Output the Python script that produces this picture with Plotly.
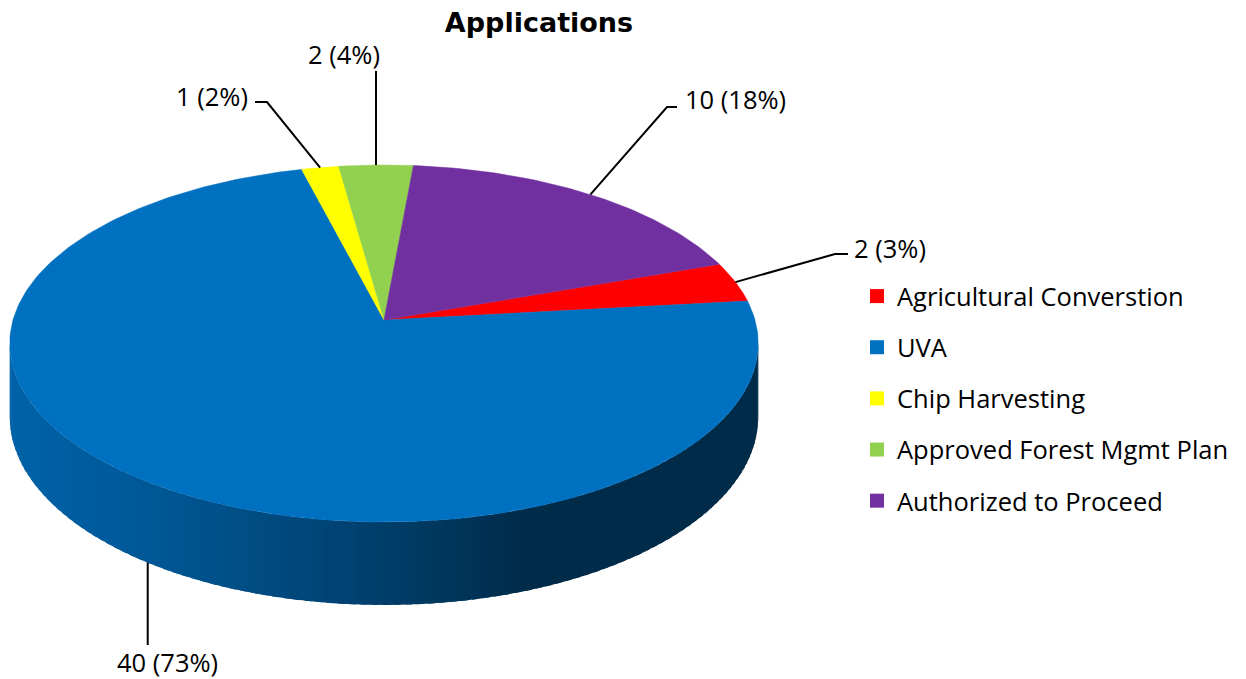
import numpy as np
import plotly.graph_objects as go

# ---------------- data ----------------
categories = ["Agricultural Converstion", "UVA", "Chip Harvesting",
              "Approved Forest Mgmt Plan", "Authorized to Proceed"]
counts = [2, 40, 1, 2, 10]
pct_labels = [3, 73, 2, 4, 18]
colors = ["#FF0000", "#0070C0", "#FFFF00", "#92D050", "#7030A0"]
title_text = "Applications"

# ---------------- geometry / style ----------------
W, H = 1246, 679
CX, CY = 384, 320          # pie centre (px)
RX, RY = 371, 175.4        # projected radii
PERSP = 0.1317             # perspective strength
DEPTH = 72                 # side thickness
START = 70.6               # first slice start, deg clockwise from 12 o'clock
LABEL_FONT = dict(family="Open Sans", size=25.5, color="#000000")

# side shading factor as a function of screen x
SHADE_X = [8, 150, 300, 450, 530, 760]
SHADE_F = [0.88, 0.78, 0.64, 0.48, 0.38, 0.38]

LABEL_LAYOUT = {
    "Agricultural Converstion": dict(pos=(852, 248), anchor="left", end=(848, 254), hseg=-13, z=0),
    "UVA": dict(pos=(167, 662), anchor="center", end=(None, 645), hseg=0, z=1),
    "Chip Harvesting": dict(pos=(250, 96), anchor="right", end=(255, 102), hseg=12, z=0),
    "Approved Forest Mgmt Plan": dict(pos=(344, 54), anchor="center", end=(None, 71), hseg=0, z=0),
    "Authorized to Proceed": dict(pos=(683, 99), anchor="left", end=(677, 107), hseg=-10, z=0),
}


def proj(theta_deg, z):
    t = np.radians(theta_deg)
    u, v = np.sin(t), np.cos(t)
    d = 1 + PERSP * v
    return CX + RX * u / d, CY + (-RY * v + DEPTH * z) / d


def shade(hex_color, f):
    h = hex_color.lstrip("#")
    r, g, b = (int(h[i:i + 2], 16) for i in (0, 2, 4))
    return "rgb(%d,%d,%d)" % (round(r * f), round(g * f), round(b * f))


total = sum(counts)
spans = [360.0 * c / total for c in counts]
starts = [START + sum(spans[:i]) for i in range(len(spans))]

fig = go.Figure()

# ---- side walls (visible front part only) ----
vis0 = np.degrees(np.arccos(-PERSP))
vis1 = 360 - vis0
for cat, col, a0, sp in zip(categories, colors, starts, spans):
    a1 = a0 + sp
    for off in (0, 360, -360):
        lo, hi = max(a0 + off, vis0), min(a1 + off, vis1)
        if hi <= lo:
            continue
        n = max(2, int((hi - lo) / 1.5) + 1)
        edges = np.linspace(lo, hi, n)
        step = edges[1] - edges[0]
        for t0, t1 in zip(edges[:-1], edges[1:]):
            t1e = min(t1 + 0.6 * step, hi)
            ts_top = np.linspace(t0, t1e, 4)
            xs, ys = [], []
            for t in ts_top:
                x, y = proj(t, 0)
                xs.append(x); ys.append(y)
            for t in ts_top[::-1]:
                x, y = proj(t, 1)
                xs.append(x); ys.append(y)
            xm = float(np.mean([proj(t0, 0)[0], proj(t1, 0)[0]]))
            c = shade(col, float(np.interp(xm, SHADE_X, SHADE_F)))
            fig.add_trace(go.Scatter(x=xs, y=ys, fill="toself", fillcolor=c,
                                     mode="lines", line=dict(color=c, width=0),
                                     hoverinfo="skip", showlegend=False))

# ---- top faces ----
for cat, col, a0, sp in zip(categories, colors, starts, spans):
    ts = np.linspace(a0, a0 + sp, max(3, int(sp) + 2))
    xs, ys = [CX], [CY]
    for t in ts:
        x, y = proj(t, 0)
        xs.append(x); ys.append(y)
    xs.append(CX); ys.append(CY)
    fig.add_trace(go.Scatter(x=xs, y=ys, fill="toself", fillcolor=col,
                             mode="lines", line=dict(color=col, width=0.5),
                             hoverinfo="skip", showlegend=False))

# ---- leader lines and data labels ----
for cat, cnt, pct, a0, sp in zip(categories, counts, pct_labels, starts, spans):
    lay = LABEL_LAYOUT[cat]
    sx, sy = proj(a0 + sp / 2, lay["z"])
    ex, ey = lay["end"]
    if ex is None:
        ex = sx
    xs, ys = [sx], [sy]
    if lay["hseg"]:
        xs.append(ex + lay["hseg"]); ys.append(ey)
    xs.append(ex); ys.append(ey)
    fig.add_trace(go.Scatter(x=xs, y=ys, mode="lines",
                             line=dict(color="#000000", width=2),
                             hoverinfo="skip", showlegend=False))
    fig.add_annotation(x=lay["pos"][0], y=lay["pos"][1], xref="x", yref="y",
                       text="%d (%d%%)" % (cnt, pct), showarrow=False,
                       xanchor=lay["anchor"], yanchor="middle", font=LABEL_FONT)

# ---- legend entries ----
for i, (cat, col) in enumerate(zip(categories, colors)):
    fig.add_trace(go.Scatter(x=[None], y=[None], mode="markers", name=cat,
                             legendgroup="g%d" % i,
                             marker=dict(symbol="square", size=14, color=col,
                                         line=dict(width=0))))

fig.update_layout(
    width=W, height=H,
    margin=dict(l=0, r=0, t=0, b=0),
    paper_bgcolor="white", plot_bgcolor="white",
    xaxis=dict(range=[0, W], visible=False, fixedrange=True),
    yaxis=dict(range=[H, 0], visible=False, fixedrange=True),
    title=dict(text="<b>%s</b>" % title_text, x=539 / W, xanchor="center",
               y=1 - 23 / H, yanchor="middle",
               font=dict(family="DejaVu Sans", size=27, color="#000000")),
    legend=dict(x=857 / W, y=1 - 273 / H, xanchor="left", yanchor="top",
                font=dict(family="Open Sans", size=25.5, color="#000000"),
                tracegroupgap=15, bgcolor="rgba(0,0,0,0)",
                itemclick=False, itemdoubleclick=False),
    showlegend=True,
)

fig.write_html("out.html", config={"displayModeBar": False},
               post_script="document.body.style.margin='0';document.body.style.overflow='hidden';")
